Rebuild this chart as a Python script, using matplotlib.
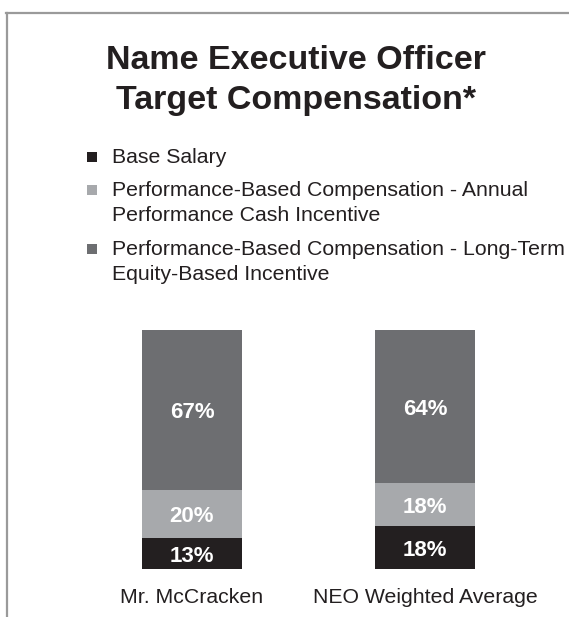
import matplotlib.pyplot as plt
from matplotlib.patches import Rectangle
from matplotlib.lines import Line2D

plt.rcParams['font.family'] = ['Liberation Sans', 'DejaVu Sans']

# chart data
categories = ['Mr. McCracken', 'NEO Weighted Average']
series_names = [
    ['Base Salary'],
    ['Performance-Based Compensation - Annual', 'Performance Cash Incentive'],
    ['Performance-Based Compensation - Long-Term', 'Equity-Based Incentive'],
]
base_salary = [13, 18]
annual_cash = [20, 18]
long_term_equity = [67, 64]
colors = ['#231f20', '#a7a9ac', '#6d6e71']

W, H = 569, 617
fig = plt.figure(figsize=(W / 100, H / 100), dpi=100)
fig.patch.set_facecolor('white')


def fx(px):
    return px / W


def fy(py):
    return 1 - py / H


# frame lines (left and top)
fig.add_artist(Line2D([fx(7), fx(7)], [fy(12.5), 0], color='#9a9a9a', lw=1.6))
fig.add_artist(Line2D([fx(6.4), 1], [fy(12.5), fy(12.5)], color='#9a9a9a', lw=1.6))

# title
fig.text(fx(295.5), fy(69), 'Name Executive Officer', ha='center', va='baseline',
         fontsize=24.5, fontweight='bold', color='#231f20')
fig.text(fx(295.5), fy(109), 'Target Compensation*', ha='center', va='baseline',
         fontsize=24.5, fontweight='bold', color='#231f20')

# legend drawn by hand so the marker sits on the first line
first_baselines = [163, 196, 255]
for lines, col, yb in zip(series_names, colors, first_baselines):
    fig.add_artist(Rectangle((fx(86.7), fy(yb - 1)), fx(10), 10 / H,
                             facecolor=col, edgecolor='none'))
    for i, line in enumerate(lines):
        fig.text(fx(111.5), fy(yb + 25 * i), line, ha='left', va='baseline',
                 fontsize=15.3, color='#231f20')

# bars
ax = fig.add_axes([fx(75.5), fy(569), fx(541.5) - fx(75.5), fy(330) - fy(569)])
x = list(range(len(categories)))
width = 0.433
bottoms = [0] * len(categories)
for vals, col in zip([base_salary, annual_cash, long_term_equity], colors):
    ax.bar(x, vals, width, bottom=bottoms, color=col, edgecolor='none')
    for xi, v, b in zip(x, vals, bottoms):
        ax.annotate(f'{v}%', (xi, b + v / 2), xytext=(0, -6), textcoords='offset points',
                    ha='center', va='baseline', fontsize=16, fontweight='bold',
                    color='white')
    bottoms = [b + v for b, v in zip(bottoms, vals)]

ax.set_xlim(-0.5, 1.5)
ax.set_ylim(0, 100)
ax.axis('off')

for xi, cat in zip(x, categories):
    ax.text(xi, -(602.7 - 569) / 239, cat, transform=ax.get_xaxis_transform(),
            ha='center', va='baseline', fontsize=15.3, color='#231f20')

fig.savefig('out.png', dpi=100, facecolor='white')
plt.close(fig)
